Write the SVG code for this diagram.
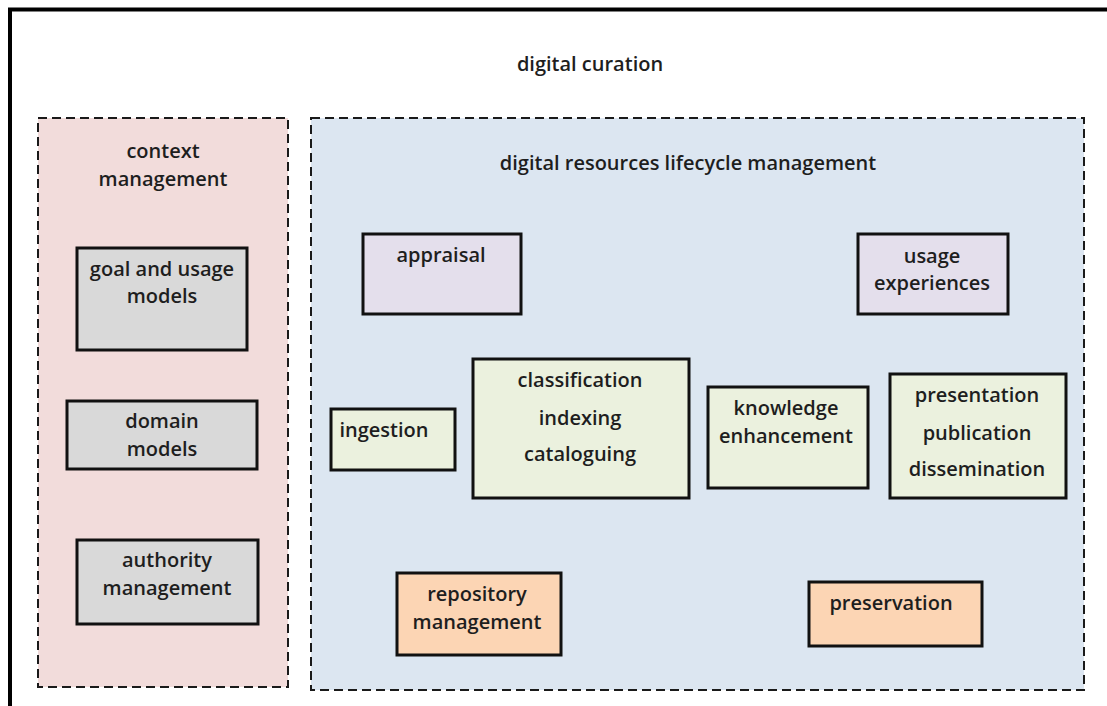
<svg xmlns="http://www.w3.org/2000/svg" width="1107" height="706" viewBox="0 0 1107 706">
<style>
text{font-family:"Open Sans","Liberation Sans",sans-serif;font-weight:600;font-size:20px;fill:#1e1e1e;text-anchor:middle}
.frame{fill:none;stroke:#000;stroke-width:4}
.area{stroke:#1a1a1a;stroke-width:2;stroke-dasharray:9 5}
.node{stroke:#111;stroke-width:3}
.grey{fill:#d9d9d9}
.lilac{fill:#e4dfec}
.green{fill:#ebf1de}
.peach{fill:#fcd5b4}
</style>
<rect width="1107" height="706" fill="#fff"/>
<path class="frame" d="M10,706 V9.5 H1107"/>
<text x="590" y="71">digital curation</text>
<g id="context-management">
<rect class="area" x="38" y="118" width="250" height="569" fill="#f2dcdb"/>
<text x="163" y="158">context</text>
<text x="163" y="186">management</text>
</g>
<g id="lifecycle-management">
<rect class="area" x="311" y="118" width="773" height="572" fill="#dce6f1"/>
<text x="688" y="170">digital resources lifecycle management</text>
</g>
<g id="goal-usage-models">
<rect class="node grey" x="77" y="248" width="170" height="102"/>
<text x="162" y="276">goal and usage</text>
<text x="162" y="303">models</text>
</g>
<g id="domain-models">
<rect class="node grey" x="67" y="401" width="190" height="68"/>
<text x="162" y="428">domain</text>
<text x="162" y="456">models</text>
</g>
<g id="authority-management">
<rect class="node grey" x="77" y="540" width="181" height="84"/>
<text x="167" y="567">authority</text>
<text x="167" y="595">management</text>
</g>
<g id="appraisal">
<rect class="node lilac" x="363" y="234" width="158" height="80"/>
<text x="441" y="262">appraisal</text>
</g>
<g id="usage-experiences">
<rect class="node lilac" x="858" y="234" width="150" height="80"/>
<text x="932" y="263">usage</text>
<text x="932" y="290">experiences</text>
</g>
<g id="ingestion">
<rect class="node green" x="331" y="409" width="124" height="61"/>
<text x="384" y="437">ingestion</text>
</g>
<g id="classification">
<rect class="node green" x="473" y="359" width="216" height="139"/>
<text x="580" y="387">classification</text>
<text x="580" y="425">indexing</text>
<text x="580" y="461">cataloguing</text>
</g>
<g id="knowledge-enhancement">
<rect class="node green" x="708" y="387" width="160" height="101"/>
<text x="786" y="415">knowledge</text>
<text x="786" y="443">enhancement</text>
</g>
<g id="presentation">
<rect class="node green" x="890" y="374" width="176" height="124"/>
<text x="977" y="402">presentation</text>
<text x="977" y="440">publication</text>
<text x="977" y="476">dissemination</text>
</g>
<g id="repository-management">
<rect class="node peach" x="397" y="573" width="164" height="82"/>
<text x="477" y="601">repository</text>
<text x="477" y="629">management</text>
</g>
<g id="preservation">
<rect class="node peach" x="809" y="582" width="173" height="64"/>
<text x="891" y="610">preservation</text>
</g>
<g id="connectors"></g>
</svg>
